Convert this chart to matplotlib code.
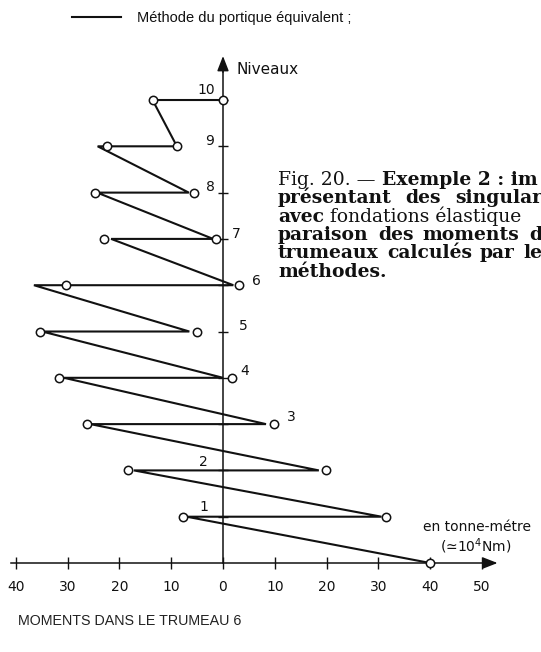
import matplotlib
matplotlib.use("Agg")
import matplotlib.pyplot as plt

# Storey levels and bending moments (t.m) in pier 6
# Polyline of the "portique équivalent" method
niveaux_ligne = [0, 1, 1, 2, 2, 3, 3, 4, 4, 5, 5, 6, 6, 7, 7, 8, 8, 9, 9, 10, 10]
moments_ligne = [40, -7.0, 30.6, -17.2, 18.5, -25.6, 8.3, -30.7, 0.0, -34.9, -6.5,
                 -36.5, 2.0, -21.6, -1.9, -24.3, -6.6, -24.2, -8.9, -13.6, 0.0]

# Values marked with open circles
niveaux_points = [0, 1, 1, 2, 2, 3, 3, 4, 4, 5, 5, 6, 6, 7, 7, 8, 8, 9, 9, 10, 10]
moments_points = [40, -7.7, 31.5, -18.3, 19.8, -26.3, 9.8, -31.6, 1.7, -35.3, -5.0,
                  -30.4, 3.1, -22.9, -1.3, -24.8, -5.6, -22.4, -8.9, -13.6, 0.0]

x_ticks = [-40, -30, -20, -10, 0, 10, 20, 30, 40, 50]
x_tick_labels = ["40", "30", "20", "10", "0", "10", "20", "30", "40", "50"]
level_ticks = [1, 2, 3, 4, 5, 6, 7, 8, 9, 10]
level_labels = ["1", "2", "3", "4", "5", "6", "7", "8", "9", "10"]

W, H = 541, 652
INK = "#111111"

fig = plt.figure(figsize=(W / 100, H / 100), dpi=100)
fig.patch.set_facecolor("white")
ax = fig.add_axes([0, 0, 1, 1])
ax.set_facecolor("none")

# data limits chosen so that 0 t.m sits near x=223 px and level 0 at y=563 px
ax.set_xlim(-43.05, 61.39)
ax.set_ylim(-1.922, 12.160)


def fp(x, y):
    """pixel position -> figure fraction"""
    return x / W, 1 - y / H


# axes drawn through the origin
for side in ("top", "right"):
    ax.spines[side].set_visible(False)
ax.spines["bottom"].set_position(("data", 0))
ax.spines["left"].set_position(("data", 0))
ax.spines["bottom"].set_bounds(-41, 52)
ax.spines["left"].set_bounds(0, 10.8)
for s in ("bottom", "left"):
    ax.spines[s].set_linewidth(1.1)
    ax.spines[s].set_color(INK)

ax.set_xticks(x_ticks)
ax.set_xticklabels(x_tick_labels, fontsize=10, family="DejaVu Sans", color=INK)
ax.tick_params(axis="x", direction="inout", length=8, width=1.0, pad=8, colors=INK)
ax.set_yticks(level_ticks)
ax.set_yticklabels([])
ax.tick_params(axis="y", direction="inout", length=7, width=1.0, colors=INK)

# arrow heads on both axes
ax.annotate("", xy=(0, 10.95), xytext=(0, 10.6),
            arrowprops=dict(arrowstyle="-|>,head_length=0.9,head_width=0.35",
                            color=INK, lw=1.1, shrinkA=0, shrinkB=0))
ax.annotate("", xy=(53.0, 0), xytext=(50.5, 0),
            arrowprops=dict(arrowstyle="-|>,head_length=0.9,head_width=0.35",
                            color=INK, lw=1.1, shrinkA=0, shrinkB=0))

# moment diagram
ax.plot(moments_ligne, niveaux_ligne, color=INK, lw=1.5, solid_joinstyle="miter",
        label="Méthode du portique équivalent ;", zorder=3)
ax.plot(moments_points, niveaux_points, linestyle="none", marker="o", markersize=6,
        markerfacecolor="white", markeredgecolor=INK, markeredgewidth=1.1, zorder=4)

# level numbers placed next to the diagram
level_pos = {
    "10": (206, 90), "9": (210, 141), "8": (210, 187), "7": (236, 234),
    "6": (256, 281), "5": (243, 326), "4": (245, 371), "3": (291, 417),
    "2": (203, 462), "1": (204, 507),
}
for lab in level_labels:
    x, y = level_pos[lab]
    fig.text(*fp(x, y), lab, fontsize=10, family="DejaVu Sans", color=INK,
             ha="center", va="center")

fig.text(*fp(236, 69), "Niveaux", fontsize=11, family="DejaVu Sans", color=INK,
         ha="left", va="center")
fig.text(*fp(477, 527), "en tonne-métre", fontsize=10, family="DejaVu Sans",
         color=INK, ha="center", va="center")
fig.text(*fp(476, 546), "(≃10$^{4}$Nm)", fontsize=10, family="DejaVu Sans",
         color=INK, ha="center", va="center")

fig.text(*fp(18, 621), "MOMENTS DANS LE TRUMEAU 6", fontsize=10.3,
         family="Liberation Sans", color="#222222", ha="left", va="center")

# legend
ax.legend(loc="center left", bbox_to_anchor=fp(72, 18), bbox_transform=fig.transFigure,
          frameon=False, borderpad=0, borderaxespad=0, handlelength=3.36,
          handletextpad=1.1, prop=dict(family="Liberation Sans", size=10.5),
          labelcolor=INK)

# figure caption, set in a justified column that runs past the right edge
renderer = fig.canvas.get_renderer()
SERIF = "DejaVu Serif"
CAP_SIZE = 13.5
X0 = 278
RIGHT = 542


def run_width(s, weight):
    t = fig.text(0, 0, s, fontsize=CAP_SIZE, family=SERIF, fontweight=weight)
    w = t.get_window_extent(renderer).width
    t.remove()
    return w


def caption_line(y, words, justify):
    space = run_width("a a", "normal") - run_width("aa", "normal")
    widths = [run_width(s, w) for s, w in words]
    if justify and len(words) > 1:
        gap = max(space, (RIGHT - X0 - sum(widths)) / (len(words) - 1))
    else:
        gap = space
    x = X0
    for (s, w), wd in zip(words, widths):
        fig.text(*fp(x, y), s, fontsize=CAP_SIZE, family=SERIF, fontweight=w,
                 color=INK, ha="left", va="baseline")
        x += wd + gap


B, N = "bold", "normal"
caption_line(185, [("Fig. 20. —", N), ("Exemple 2 : im", B)], False)
caption_line(203, [("présentant", B), ("des", B), ("singular", B)], True)
caption_line(222, [("avec", B), ("fondations élastique", N)], False)
caption_line(240, [("paraison", B), ("des", B), ("moments", B), ("d", B)], True)
caption_line(258, [("trumeaux", B), ("calculés", B), ("par", B), ("le", B)], True)
caption_line(277, [("méthodes.", B)], False)

fig.savefig("out.png", dpi=100, facecolor="white")
